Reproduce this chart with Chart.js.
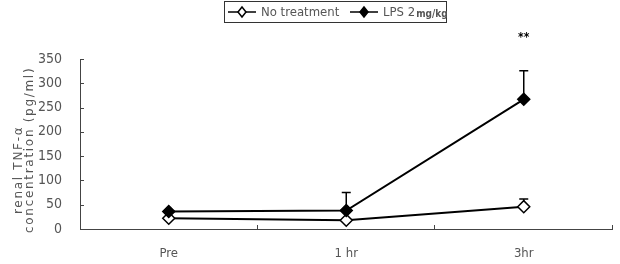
<!DOCTYPE html>
<html lang="en">
<head>
    <meta charset="UTF-8" />
    <title>Renal TNF-α concentration</title>
    <script src="https://cdn.jsdelivr.net/npm/chart.js"></script>
    <style>
        body { margin: 0; background: #fff; }
        canvas { display: block; }
    </style>
</head>
<body>
<canvas id="tnfChart" width="620" height="264"></canvas>

<script>
    // data
    const timePoints = ["Pre", "1 hr", "3hr"];
    const noTreatment = [22, 18, 46];
    const noTreatmentErr = [0, 0, 16];
    const lps = [36, 38, 267];
    const lpsErr = [0, 37, 59];
    const yTicks = [0, 50, 100, 150, 200, 250, 300, 350];
    const seriesNames = ["No treatment", "LPS 2"];
    const yTitle = ["renal TNF-α", "concentration (pg/ml)"];
    const marks = ["", "", "**"];

    const FONT = "'Liberation Sans Narrow', 'DejaVu Sans Condensed', 'Liberation Sans', sans-serif";
    const TEXT = "#555";
    const AXIS = "#444";

    // upward-only error bars, drawn under the markers
    const errorBars = {
        id: "errorBars",
        beforeDatasetsDraw(chart) {
            const ctx = chart.ctx;
            const x = chart.scales.x, y = chart.scales.y;
            const sets = [[lps, lpsErr], [noTreatment, noTreatmentErr]];
            ctx.save();
            ctx.strokeStyle = "#000";
            ctx.lineWidth = 1.5;
            sets.forEach(([vals, errs]) => {
                vals.forEach((v, i) => {
                    if (!errs[i]) return;
                    const px = x.getPixelForValue(i);
                    const y0 = y.getPixelForValue(v);
                    const y1 = y.getPixelForValue(v + errs[i]);
                    ctx.beginPath();
                    ctx.moveTo(px, y0);
                    ctx.lineTo(px, y1);
                    ctx.moveTo(px - 4.5, y1);
                    ctx.lineTo(px + 4.5, y1);
                    ctx.stroke();
                });
            });
            ctx.restore();
        }
    };

    // inward tick marks, y title, significance stars and the boxed legend
    const extras = {
        id: "extras",
        afterDraw(chart) {
            const ctx = chart.ctx;
            const x = chart.scales.x, y = chart.scales.y;
            const area = chart.chartArea;
            ctx.save();
            ctx.strokeStyle = AXIS;
            ctx.lineWidth = 1;
            ctx.beginPath();
            yTicks.forEach((t) => {
                const py = Math.round(y.getPixelForValue(t)) + 0.5;
                ctx.moveTo(area.left, py);
                ctx.lineTo(area.left + 4, py);
            });
            for (let i = 0; i < timePoints.length; i++) {
                const next = i + 1 < timePoints.length ? x.getPixelForValue(i + 1) : null;
                const px = next === null ? area.right : (x.getPixelForValue(i) + next) / 2;
                const rx = Math.round(px) - 0.5;
                ctx.moveTo(rx, area.bottom);
                ctx.lineTo(rx, area.bottom - 4);
            }
            ctx.stroke();

            // rotated two-line y title, letter spaced like the original
            ctx.fillStyle = TEXT;
            ctx.font = "12px 'DejaVu Sans', sans-serif";
            ctx.letterSpacing = "1.7px";
            ctx.textBaseline = "middle";
            ctx.textAlign = "left";
            const titleCols = [[19, 214], [30, 233]];
            yTitle.forEach((line, i) => {
                ctx.save();
                ctx.translate(titleCols[i][0], titleCols[i][1]);
                ctx.rotate(-Math.PI / 2);
                ctx.fillText(line, 0, 0);
                ctx.restore();
            });
            ctx.letterSpacing = "0px";

            // stars above the error bars
            ctx.fillStyle = "#000";
            ctx.font = "bold 12px " + FONT;
            ctx.textAlign = "center";
            marks.forEach((m, i) => {
                if (!m) return;
                const top = y.getPixelForValue(lps[i] + lpsErr[i]);
                ctx.fillText(m, x.getPixelForValue(i), top - 33);
            });

            // legend box
            const lx = 224.5, ly = 1.5, lw = 222, lh = 21;
            ctx.strokeStyle = "#333";
            ctx.lineWidth = 1;
            ctx.strokeRect(lx, ly, lw, lh);
            const cy = ly + lh / 2;
            const items = [
                { x: 228, fill: "#fff", label: seriesNames[0] },
                { x: 350, fill: "#000", label: seriesNames[1] }
            ];
            items.forEach((it) => {
                ctx.strokeStyle = "#000";
                ctx.lineWidth = 1.5;
                ctx.beginPath();
                ctx.moveTo(it.x, cy);
                ctx.lineTo(it.x + 28, cy);
                ctx.stroke();
                ctx.fillStyle = it.fill;
                ctx.beginPath();
                ctx.moveTo(it.x + 14, cy - 5);
                ctx.lineTo(it.x + 18, cy);
                ctx.lineTo(it.x + 14, cy + 5);
                ctx.lineTo(it.x + 10, cy);
                ctx.closePath();
                ctx.fill();
                ctx.stroke();
                ctx.fillStyle = TEXT;
                ctx.font = "13px " + FONT;
                ctx.textAlign = "left";
                ctx.fillText(it.label, it.x + 33, cy + 1);
            });
            // unit in the smaller bold style of the original
            const unitX = 350 + 33 + ctx.measureText(seriesNames[1]).width + 1;
            ctx.font = "bold 10px " + FONT;
            ctx.fillText("mg/kg", unitX, cy + 2);
            ctx.restore();
        }
    };

    const ctx = document.getElementById("tnfChart").getContext("2d");
    const tnfChart = new Chart(ctx, {
        type: "line",
        data: {
            labels: timePoints,
            datasets: [
                {
                    label: "LPS 2mg/kg",
                    data: lps,
                    borderColor: "#000",
                    borderWidth: 2,
                    pointStyle: "rectRot",
                    pointRadius: 6,
                    pointBackgroundColor: "#000",
                    pointBorderColor: "#000",
                    pointBorderWidth: 1.5,
                    tension: 0
                },
                {
                    label: "No treatment",
                    data: noTreatment,
                    borderColor: "#000",
                    borderWidth: 2,
                    pointStyle: "rectRot",
                    pointRadius: 6,
                    pointBackgroundColor: "#fff",
                    pointBorderColor: "#000",
                    pointBorderWidth: 1.5,
                    tension: 0
                }
            ]
        },
        options: {
            responsive: false,
            animation: false,
            layout: { padding: { top: 59, right: 7, left: 0, bottom: 0 } },
            plugins: {
                legend: { display: false },
                tooltip: { enabled: false }
            },
            scales: {
                x: {
                    type: "category",
                    offset: true,
                    grid: { display: false },
                    border: { display: true, color: AXIS, width: 1 },
                    ticks: { color: TEXT, font: { family: FONT, size: 13 }, padding: 9 },
                    afterFit(scale) { scale.height = 35; }
                },
                y: {
                    min: 0,
                    max: 350,
                    grid: { display: false },
                    border: { display: true, color: AXIS, width: 1 },
                    ticks: {
                        stepSize: 50,
                        color: TEXT,
                        padding: 10,
                        font: { family: FONT, size: 14 }
                    },
                    afterFit(scale) { scale.width = 80; }
                }
            }
        },
        plugins: [errorBars, extras]
    });
</script>
</body>
</html>
